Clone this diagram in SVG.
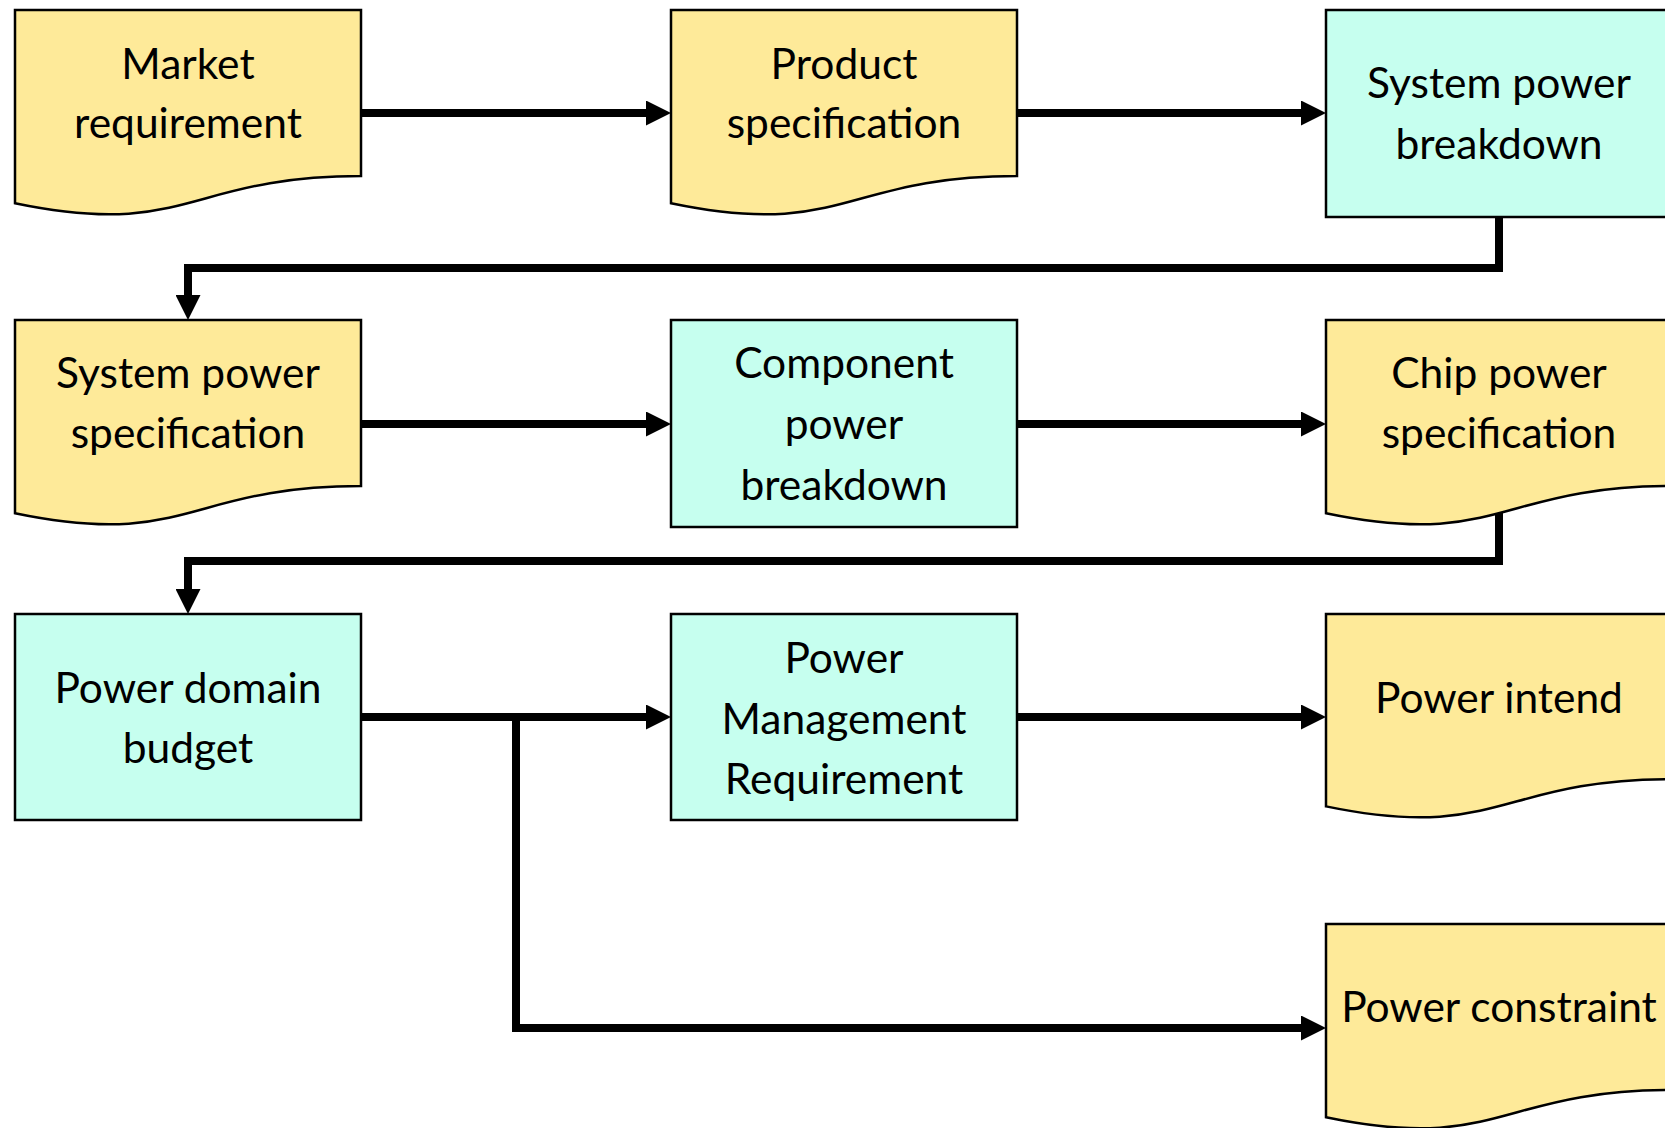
<svg xmlns="http://www.w3.org/2000/svg" width="1665" height="1128" viewBox="0 0 1665 1128">
<style>
.doc{fill:#FEEA99;stroke:#000;stroke-width:2.5;stroke-linejoin:miter}
.box{fill:#C6FFEF;stroke:#000;stroke-width:2.5}
.t{font-family:Lato,"Open Sans","Liberation Sans",sans-serif;font-size:42.5px;fill:#000;text-anchor:middle}
.c{fill:none;stroke:#000;stroke-width:8;stroke-linejoin:miter;marker-end:url(#ah)}
</style>
<defs>
<marker id="ah" markerUnits="userSpaceOnUse" markerWidth="25" markerHeight="25" refX="5" refY="12.5" orient="auto" viewBox="0 0 25 25">
<path d="M0,0 L25,12.5 L0,25 Z" fill="#000"/>
</marker>
</defs>
<rect width="1665" height="1128" fill="#fff"/>
<g id="connectors">
<path class="c" d="M361,113 H651"/>
<path class="c" d="M1017,113 H1306"/>
<path class="c" d="M1499,217 V268 H188 V300"/>
<path class="c" d="M361,424 H651"/>
<path class="c" d="M1017,424 H1306"/>
<path class="c" d="M1499,513 V561 H188 V594"/>
<path class="c" d="M361,717 H651"/>
<path class="c" d="M1017,717 H1306"/>
<path class="c" d="M516,717 V1028 H1306"/>
</g>
<g id="market-requirement">
<path class="doc" d="M15,10 H361 V176 C188,176 188,239.3 15,203.3 Z"/>
<text class="t" x="188" y="79">Market</text>
<text class="t" x="188" y="138">requirement</text>
</g>
<g id="product-specification">
<path class="doc" d="M671,10 H1017 V176 C844,176 844,239.3 671,203.3 Z"/>
<text class="t" x="844" y="79">Product</text>
<text class="t" x="844" y="138">specification</text>
</g>
<g id="system-power-breakdown">
<rect class="box" x="1326" y="10" width="346" height="207"/>
<text class="t" x="1499" y="98">System power</text>
<text class="t" x="1499" y="159">breakdown</text>
</g>
<g id="system-power-specification">
<path class="doc" d="M15,320 H361 V486 C188,486 188,549.3 15,513.3 Z"/>
<text class="t" x="188" y="388">System power</text>
<text class="t" x="188" y="448">specification</text>
</g>
<g id="component-power-breakdown">
<rect class="box" x="671" y="320" width="346" height="207"/>
<text class="t" x="844" y="378">Component</text>
<text class="t" x="844" y="439">power</text>
<text class="t" x="844" y="500">breakdown</text>
</g>
<g id="chip-power-specification">
<path class="doc" d="M1326,320 H1672 V486 C1499,486 1499,549.3 1326,513.3 Z"/>
<text class="t" x="1499" y="388">Chip power</text>
<text class="t" x="1499" y="448">specification</text>
</g>
<g id="power-domain-budget">
<rect class="box" x="15" y="614" width="346" height="206"/>
<text class="t" x="188" y="703">Power domain</text>
<text class="t" x="188" y="763">budget</text>
</g>
<g id="power-management-requirement">
<rect class="box" x="671" y="614" width="346" height="206"/>
<text class="t" x="844" y="673">Power</text>
<text class="t" x="844" y="734">Management</text>
<text class="t" x="844" y="794">Requirement</text>
</g>
<g id="power-intend">
<path class="doc" d="M1326,614 H1672 V779.2 C1499,779.2 1499,842.1 1326,806.4 Z"/>
<text class="t" x="1499" y="713">Power intend</text>
</g>
<g id="power-constraint">
<path class="doc" d="M1326,924 H1672 V1090 C1499,1090 1499,1153.3 1326,1117.3 Z"/>
<text class="t" x="1499" y="1022">Power constraint</text>
</g>
</svg>
